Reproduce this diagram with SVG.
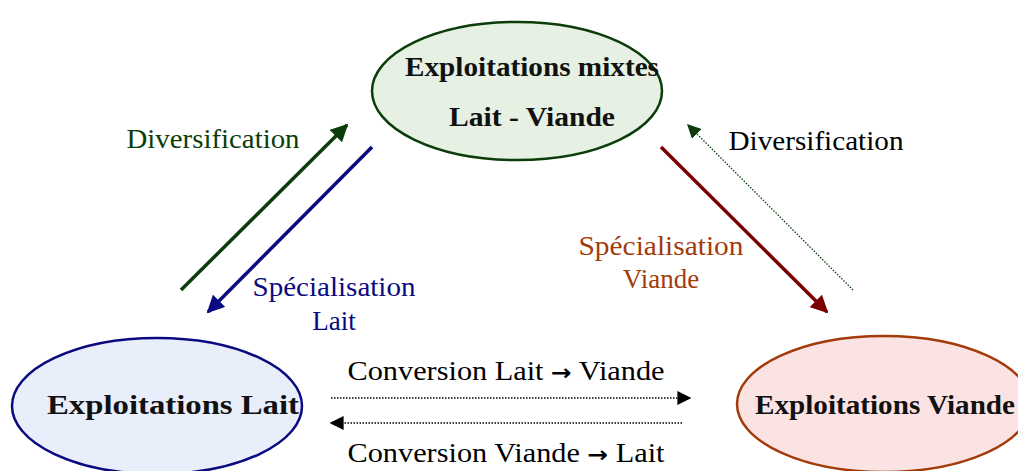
<svg xmlns="http://www.w3.org/2000/svg" width="1018" height="471" viewBox="0 0 1018 471">
<style>
.n{font-family:"Liberation Serif",serif;font-weight:bold;font-size:28px;fill:#111;text-anchor:middle}
.l{font-family:"Liberation Serif",serif;font-size:27px;text-anchor:middle}
.a{font-family:"DejaVu Sans",sans-serif;font-weight:bold;font-size:22px}
</style>
<defs>
<marker id="mg" viewBox="0 0 10 10" refX="9" refY="5" markerWidth="5" markerHeight="5" orient="auto" markerUnits="strokeWidth"><path d="M0,0L10,5L0,10z" fill="#0b3d0b"/></marker>
<marker id="mb" viewBox="0 0 10 10" refX="9" refY="5" markerWidth="5" markerHeight="5" orient="auto" markerUnits="strokeWidth"><path d="M0,0L10,5L0,10z" fill="#0a0a80"/></marker>
<marker id="mr" viewBox="0 0 10 10" refX="9" refY="5" markerWidth="5" markerHeight="5" orient="auto" markerUnits="strokeWidth"><path d="M0,0L10,5L0,10z" fill="#7a0000"/></marker>
<marker id="mgd" viewBox="0 0 10 10" refX="9" refY="5" markerWidth="14" markerHeight="14" orient="auto" markerUnits="userSpaceOnUse"><path d="M0,0L10,5L0,10z" fill="#0b3d0b"/></marker>
<marker id="mk" viewBox="0 0 10 10" refX="9" refY="5" markerWidth="14" markerHeight="14" orient="auto" markerUnits="userSpaceOnUse"><path d="M0,0L10,5L0,10z" fill="#000"/></marker>
</defs>
<rect width="1018" height="471" fill="#fff"/>
<g id="connectors" fill="none">
<line x1="181" y1="290" x2="347" y2="125" stroke="#0b3d0b" stroke-width="3.5" marker-end="url(#mg)"/>
<line x1="372" y1="147" x2="208" y2="312" stroke="#0a0a80" stroke-width="3.5" marker-end="url(#mb)"/>
<line x1="661" y1="147" x2="827" y2="312" stroke="#7a0000" stroke-width="3.5" marker-end="url(#mr)"/>
<line x1="853" y1="290" x2="688" y2="125" stroke="#0b3d0b" stroke-width="1.3" stroke-dasharray="1.5,1.5" marker-end="url(#mgd)"/>
<line x1="331" y1="398" x2="690" y2="398" stroke="#000" stroke-width="1.3" stroke-dasharray="1.5,1.5" marker-end="url(#mk)"/>
<line x1="682" y1="423" x2="331" y2="423" stroke="#000" stroke-width="1.3" stroke-dasharray="1.5,1.5" marker-end="url(#mk)"/>
</g>
<g id="labels">
<text class="l" x="213" y="148" fill="#0b3d0b" textLength="173" lengthAdjust="spacingAndGlyphs">Diversification</text>
<text class="l" x="334" y="296" fill="#0a0a80" textLength="163" lengthAdjust="spacingAndGlyphs">Spécialisation</text>
<text class="l" x="334" y="330" fill="#0a0a80">Lait</text>
<text class="l" x="661" y="255" fill="#a33a0a" textLength="165" lengthAdjust="spacingAndGlyphs">Spécialisation</text>
<text class="l" x="661" y="288" fill="#a33a0a">Viande</text>
<text class="l" x="816" y="150" fill="#000" textLength="175" lengthAdjust="spacingAndGlyphs">Diversification</text>
<text class="l" x="506" y="380" fill="#000" textLength="317" lengthAdjust="spacingAndGlyphs">Conversion Lait <tspan class="a">→</tspan> Viande</text>
<text class="l" x="506" y="462" fill="#000" textLength="317" lengthAdjust="spacingAndGlyphs">Conversion Viande <tspan class="a">→</tspan> Lait</text>
</g>
<g id="node-mixtes">
<ellipse cx="517" cy="91" rx="145" ry="69" fill="#e6f1e3" stroke="#0b3d0b" stroke-width="2.5"/>
<text class="n" x="532" y="76" textLength="254" lengthAdjust="spacingAndGlyphs">Exploitations mixtes</text>
<text class="n" x="532" y="126" textLength="166" lengthAdjust="spacingAndGlyphs">Lait - Viande</text>
</g>
<g id="node-lait">
<ellipse cx="157" cy="406" rx="145" ry="68" fill="#e9eefb" stroke="#0a0a80" stroke-width="2.5"/>
<text class="n" x="173" y="414" textLength="252" lengthAdjust="spacingAndGlyphs">Exploitations Lait</text>
</g>
<g id="node-viande">
<ellipse cx="884" cy="404" rx="147" ry="68" fill="#fce3e3" stroke="#a33a0a" stroke-width="2.5"/>
<text class="n" x="885" y="414" textLength="260" lengthAdjust="spacingAndGlyphs">Exploitations Viande</text>
</g>
</svg>
